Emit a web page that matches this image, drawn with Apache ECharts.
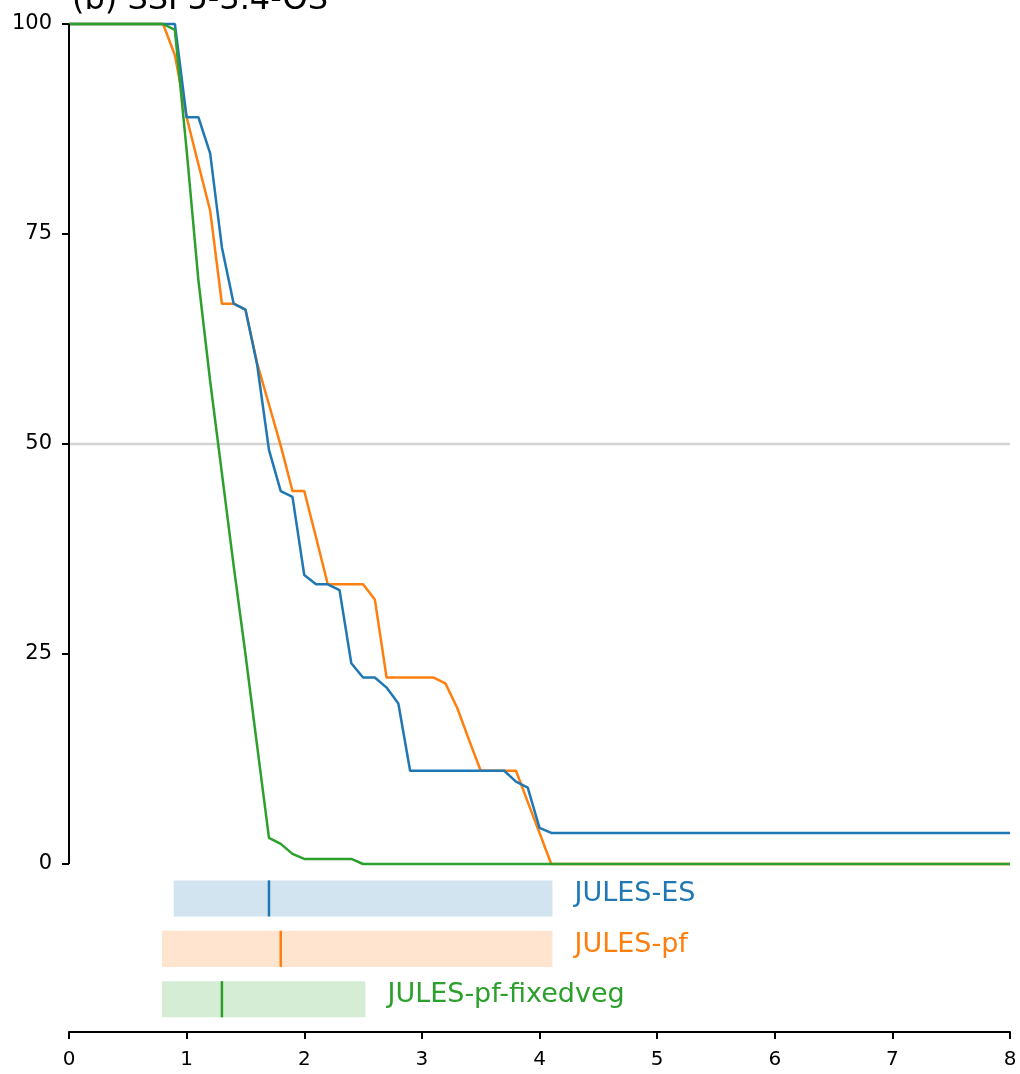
<!DOCTYPE html>
<html>
<head>
<meta charset="utf-8">
<script src="https://cdn.jsdelivr.net/npm/echarts@6/dist/echarts.min.js"></script>
<style>
html,body{margin:0;padding:0;background:#fff;}
#chart{width:1020px;height:1074px;}
</style>
</head>
<body>
<div id="chart"></div>
<script>
// ---- data ----
var titleText = '(b) SSP5-3.4-OS';
var modelNames = ['JULES-ES', 'JULES-pf', 'JULES-pf-fixedveg'];
var modelColors = ['#1f77b4', '#ff7f0e', '#2ca02c'];
var modelFill = ['#d2e4f0', '#ffe5cf', '#d5ecd5'];

var esX = [0, 0.9, 1.0, 1.1, 1.2, 1.3, 1.4, 1.5, 1.6, 1.7, 1.8, 1.9, 2.0, 2.1, 2.2, 2.3, 2.4, 2.5, 2.6, 2.7, 2.8, 2.9, 3.7, 3.8, 3.9, 4.0, 4.1, 8.0];
var esY = [100, 100, 88.9, 88.9, 84.6, 73.4, 66.7, 66.0, 59.4, 49.3, 44.4, 43.7, 34.4, 33.3, 33.3, 32.6, 23.9, 22.2, 22.2, 21.0, 19.1, 11.1, 11.1, 9.8, 9.1, 4.3, 3.7, 3.7];

var pfX = [0, 0.8, 0.9, 1.0, 1.1, 1.2, 1.3, 1.4, 1.5, 1.6, 1.7, 1.8, 1.9, 2.0, 2.1, 2.2, 2.5, 2.6, 2.7, 3.1, 3.2, 3.3, 3.4, 3.5, 3.8, 3.9, 4.0, 4.1, 8.0];
var pfY = [100, 100, 96.3, 88.9, 83.3, 77.8, 66.7, 66.7, 66.0, 59.6, 54.7, 49.8, 44.4, 44.4, 38.9, 33.3, 33.3, 31.5, 22.2, 22.2, 21.5, 18.6, 14.8, 11.1, 11.1, 7.4, 3.7, 0, 0];

var fvX = [0, 0.8, 0.9, 1.0, 1.1, 1.2, 1.3, 1.4, 1.5, 1.6, 1.7, 1.8, 1.9, 2.0, 2.4, 2.5, 8.0];
var fvY = [100, 100, 99.3, 85.0, 69.5, 57.5, 46.5, 35.5, 25.0, 14.0, 3.1, 2.4, 1.2, 0.6, 0.6, 0, 0];

// range bars: [low, high, median]
var rangeLow = [0.89, 0.79, 0.79];
var rangeHigh = [4.11, 4.11, 2.52];
var rangeMedian = [1.70, 1.80, 1.30];

var xTicks = [0, 1, 2, 3, 4, 5, 6, 7, 8];
var yTicks = [0, 25, 50, 75, 100];

// ---- build ----
function zip(xs, ys) { return xs.map(function (x, i) { return [x, ys[i]]; }); }
var FONT = 'DejaVu Sans';

var rangeData = modelNames.map(function (n, i) { return [rangeLow[i], rangeHigh[i], rangeMedian[i], i]; });

function renderRange(params, api) {
  var i = api.value(3);
  var yc = -4.1 - 6 * i;
  var half = 2.15;
  var p1 = api.coord([api.value(0), yc + half]);
  var p2 = api.coord([api.value(1), yc - half]);
  var m1 = api.coord([api.value(2), yc + half]);
  var m2 = api.coord([api.value(2), yc - half]);
  var mid = (p1[1] + p2[1]) / 2;
  return {
    type: 'group',
    children: [
      { type: 'rect', shape: { x: p1[0], y: p1[1], width: p2[0] - p1[0], height: p2[1] - p1[1] },
        style: { fill: modelFill[i] } },
      { type: 'line', shape: { x1: m1[0], y1: m1[1], x2: m2[0], y2: m2[1] },
        style: { stroke: modelColors[i], lineWidth: 2.5 } },
      { type: 'text', x: p2[0] + 22, y: mid - 4,
        style: { text: modelNames[i], fill: modelColors[i], font: '27px "' + FONT + '"',
                 textAlign: 'left', textVerticalAlign: 'middle' } }
    ]
  };
}

var chart = echarts.init(document.getElementById('chart'), null, { renderer: 'canvas' });
chart.setOption({
  backgroundColor: '#fff',
  animation: false,
  title: {
    text: titleText, left: 67, top: -20,
    textStyle: { fontFamily: FONT, fontSize: 32, fontWeight: 'normal', color: '#000' }
  },
  grid: { left: 69, right: 10, top: 24, bottom: 42, containLabel: false },
  xAxis: {
    type: 'value', min: 0, max: 8, interval: 1,
    axisLine: { onZero: false, lineStyle: { color: '#000', width: 2 } },
    axisTick: { show: true, length: 7, lineStyle: { color: '#000', width: 2 } },
    axisLabel: { color: '#000', fontFamily: FONT, fontSize: 20, margin: 18,
                 formatter: function (v) { return xTicks.indexOf(v) >= 0 ? String(v) : ''; } },
    splitLine: { show: false }
  },
  yAxis: {
    type: 'value', min: -20, max: 100,
    axisLine: { show: false },
    axisTick: { show: true, length: 7, customValues: yTicks, lineStyle: { color: '#000', width: 2 } },
    axisLabel: { color: '#000', fontFamily: FONT, fontSize: 21, margin: 17, customValues: yTicks },
    splitLine: { show: false }
  },
  series: [
    { type: 'line', data: [[0, 50], [8, 50]], symbol: 'none', silent: true, z: 1,
      lineStyle: { color: '#d3d3d3', width: 2.5 } },
    { type: 'line', data: [[0, 0], [0, 100]], symbol: 'none', silent: true, clip: false, z: 5,
      lineStyle: { color: '#000', width: 2 } },
    { type: 'custom', renderItem: renderRange, data: rangeData, clip: false, z: 2, silent: true },
    { type: 'line', name: modelNames[1], data: zip(pfX, pfY), symbol: 'none', z: 3, clip: false,
      lineStyle: { color: modelColors[1], width: 2.5 } },
    { type: 'line', name: modelNames[0], data: zip(esX, esY), symbol: 'none', z: 3, clip: false,
      lineStyle: { color: modelColors[0], width: 2.5 } },
    { type: 'line', name: modelNames[2], data: zip(fvX, fvY), symbol: 'none', z: 3, clip: false,
      lineStyle: { color: modelColors[2], width: 2.5 } }
  ]
});
</script>
</body>
</html>
